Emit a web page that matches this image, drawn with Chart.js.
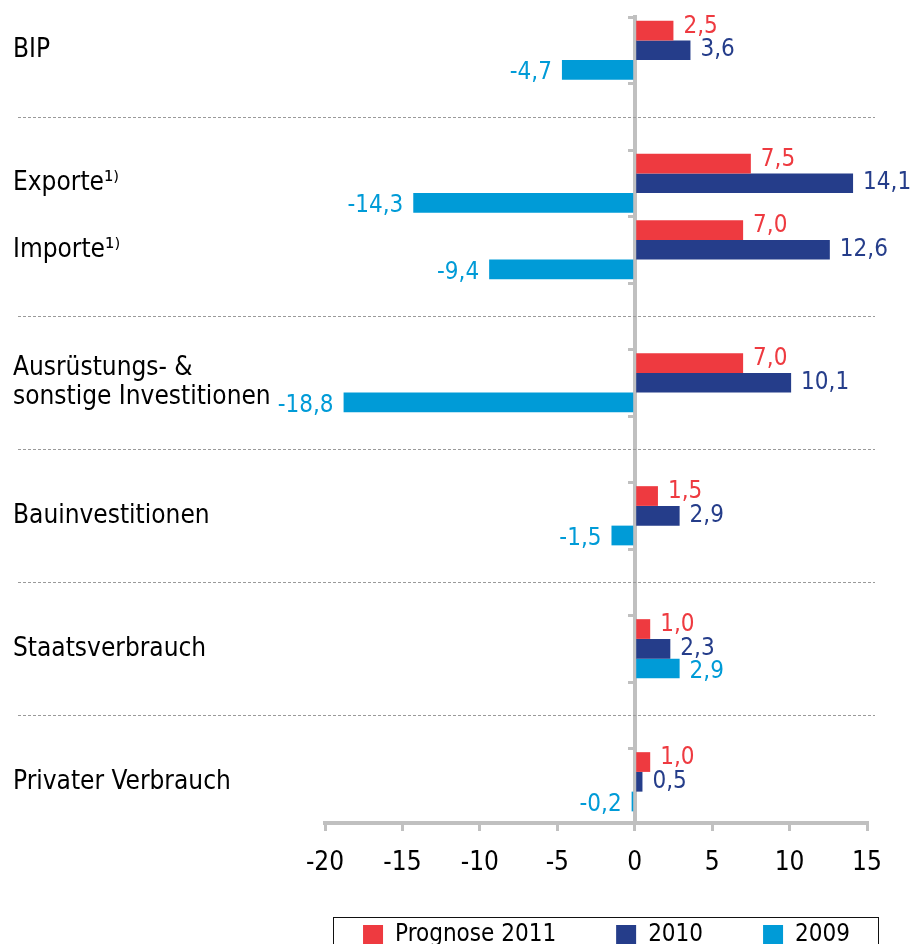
<!DOCTYPE html>
<html><head><meta charset="utf-8">
<script src="https://cdn.jsdelivr.net/npm/chart.js@4.4.1/dist/chart.umd.min.js"></script>
<style>
html,body{margin:0;padding:0;background:#fff;}
#clip{width:910px;height:944px;overflow:hidden;position:relative;}
#wrap{width:910px;height:977px;position:relative;}
</style></head><body>
<div id="clip"><div id="wrap"><canvas id="c"></canvas></div></div>
<script>
// ---- data ----
const categories = ['BIP', '', 'Exporte¹⁾', 'Importe¹⁾', '', ['Ausrüstungs- &', 'sonstige Investitionen'], '', 'Bauinvestitionen', '', 'Staatsverbrauch', '', 'Privater Verbrauch'];
const prognose2011 = [2.5, null, 7.5, 7.0, null, 7.0, null, 1.5, null, 1.0, null, 1.0];
const values2010   = [3.6, null, 14.1, 12.6, null, 10.1, null, 2.9, null, 2.3, null, 0.5];
const values2009   = [-4.7, null, -14.3, -9.4, null, -18.8, null, -1.5, null, 2.9, null, -0.2];
const seriesNames  = ['Prognose 2011', '2010', '2009'];
const xTicks       = [-20, -15, -10, -5, 0, 5, 10, 15];

// ---- styling ----
const FONT = '"DejaVu Sans Condensed", "DejaVu Sans", sans-serif';
const COLORS = ['#EE3A40', '#253D8A', '#009BD7'];
const LABEL_SHIFT = [-4, 0, 3];
const AXIS_GREY = '#C0C0C0';
Chart.defaults.font.family = FONT;
Chart.defaults.color = '#000';

const toPoints = arr => arr.map((v, i) => v === null ? null : {x: v, y: i}).filter(p => p !== null);
const seriesValues = [prognose2011, values2010, values2009];

const valueLabels = {
  id: 'valueLabels',
  afterDatasetsDraw(chart) {
    const ctx = chart.ctx;
    chart.data.datasets.forEach((ds, di) => {
      const meta = chart.getDatasetMeta(di);
      meta.data.forEach((bar, i) => {
        const v = ds.data[i].x;
        const txt = v.toFixed(1).replace('.', ',');
        const neg = v < 0;
        ctx.save();
        ctx.font = '24px ' + FONT;
        ctx.fillStyle = ds.backgroundColor;
        ctx.textBaseline = 'middle';
        ctx.textAlign = neg ? 'right' : 'left';
        ctx.fillText(txt, bar.x + (neg ? -10 : 10), bar.y + LABEL_SHIFT[di]);
        ctx.restore();
      });
    });
  }
};

const separators = {
  id: 'separators',
  beforeDatasetsDraw(chart) {
    const ctx = chart.ctx, ys = chart.scales.y;
    const x0 = chart.scales.yLab.left + 5, x1 = chart.chartArea.right + 8;
    ctx.save();
    ctx.strokeStyle = '#9A9A9A';
    ctx.lineWidth = 1;
    ctx.setLineDash([3, 2]);
    categories.forEach((c, i) => {
      if (c !== '') return;
      const y = Math.round(ys.getPixelForValue(i)) + 0.5;
      ctx.beginPath(); ctx.moveTo(x0, y); ctx.lineTo(x1, y); ctx.stroke();
    });
    ctx.restore();
  }
};

// keep the legend row close under the axis labels
const legendPlacement = {
  id: 'legendPlacement',
  afterLayout(chart) {
    const lg = chart.legend;
    if (!lg) return;
    const dy = lg.top - (chart.chartArea.bottom + 40);
    lg.top -= dy; lg.bottom -= dy;
  }
};

const legendFrame = {
  id: 'legendFrame',
  afterDraw(chart) {
    const hb = chart.legend.legendHitBoxes;
    if (!hb || !hb.length) return;
    const first = hb[0], last = hb[hb.length - 1];
    const left = Math.round(first.left - 30) + 0.5;
    const right = Math.round(last.left + last.width + 28) + 0.5;
    const top = Math.round(first.top - 6) + 0.5;
    const ctx = chart.ctx;
    ctx.save();
    ctx.strokeStyle = '#111';
    ctx.lineWidth = 1;
    ctx.strokeRect(left, top, right - left, chart.height - top + 10);
    ctx.restore();
  }
};

new Chart(document.getElementById('c'), {
  type: 'bar',
  data: {
    datasets: seriesValues.map((vals, i) => ({
      label: seriesNames[i],
      data: toPoints(vals),
      backgroundColor: COLORS[i],
      borderWidth: 0,
      yAxisID: 'y',
      xAxisID: 'x'
    }))
  },
  options: {
    indexAxis: 'y',
    responsive: true,
    maintainAspectRatio: false,
    animation: false,
    categoryPercentage: 0.89,
    barPercentage: 1.0,
    layout: {padding: {top: 17, left: 13, right: 0, bottom: 0}},
    scales: {
      x: {
        type: 'linear',
        position: 'bottom',
        min: -20, max: 15,
        afterBuildTicks: s => { s.ticks = xTicks.map(v => ({value: v})); },
        afterFit: s => { s.height = 60; },
        grid: {drawOnChartArea: false, drawTicks: true, tickLength: 8, color: AXIS_GREY, lineWidth: 3},
        border: {display: true, color: AXIS_GREY, width: 4},
        ticks: {font: {size: 26}, color: '#000', padding: 17, maxRotation: 0, autoSkip: false}
      },
      y: {
        type: 'linear',
        position: {x: 0},
        reverse: true,
        offset: false,
        min: -0.5, max: 11.62,
        z: 2,
        afterBuildTicks: s => { s.ticks = categories.slice(0, -1).map((c, i) => ({value: i - 0.5})).concat([{value: categories.length - 1.5}]); },
        grid: {offset: false, drawOnChartArea: false, drawTicks: true, tickLength: 5, color: AXIS_GREY, lineWidth: 3},
        border: {display: true, color: AXIS_GREY, width: 4},
        ticks: {display: false}
      },
      yLab: {
        type: 'linear',
        position: 'left',
        reverse: true,
        offset: false,
        min: -0.5, max: 11.62,
        afterBuildTicks: s => { s.ticks = categories.map((c, i) => c === '' ? null : {value: i}).filter(t => t !== null); },
        afterFit: s => { s.width = 312; },
        grid: {display: false, offset: false},
        border: {display: false},
        ticks: {
          autoSkip: false, crossAlign: 'far', padding: 0, color: '#000',
          font: {size: 26, lineHeight: 1.08},
          callback: v => categories[v]
        }
      },
      yPad: {
        type: 'linear',
        position: 'right',
        offset: false,
        afterFit: s => { s.width = 43; },
        grid: {display: false},
        border: {display: false},
        ticks: {display: false}
      }
    },
    plugins: {
      tooltip: {enabled: false},
      legend: {
        position: 'bottom',
        align: 'end',
        labels: {font: {size: 24}, color: '#000', boxWidth: 20, boxHeight: 20, padding: 60}
      }
    }
  },
  plugins: [separators, valueLabels, legendPlacement, legendFrame]
});
</script>
</body></html>
